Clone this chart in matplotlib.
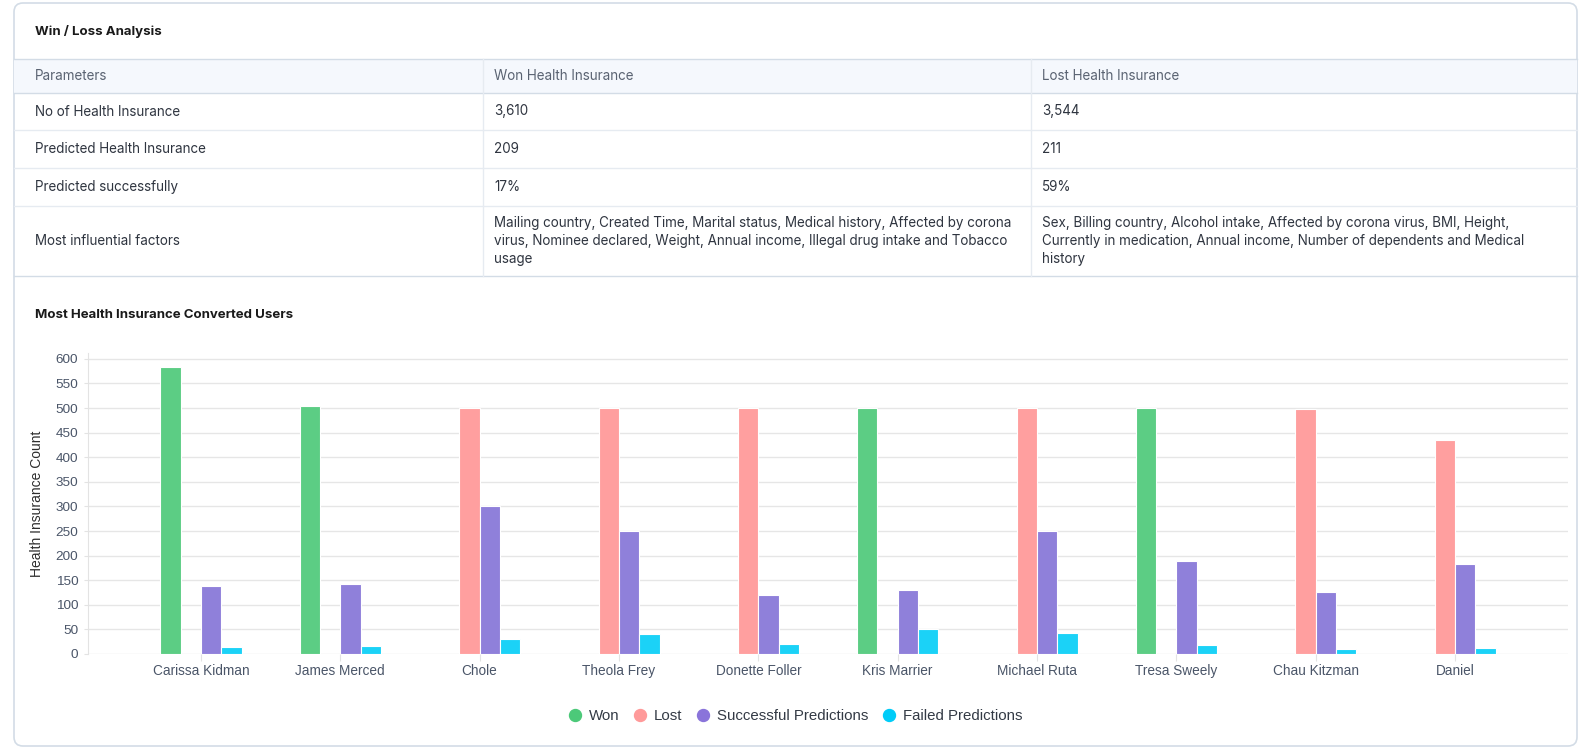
# coding: utf-8

import matplotlib.pyplot as plt
from matplotlib.patches import FancyBboxPatch, Rectangle
from matplotlib.lines import Line2D


# Data
users = ["Carissa Kidman", "James Merced", "Chole", "Theola Frey", "Donette Foller",
         "Kris Marrier", "Michael Ruta", "Tresa Sweely", "Chau Kitzman", "Daniel"]
won = [584, 505, 0, 0, 0, 500, 0, 500, 0, 0]
lost = [0, 0, 500, 500, 500, 0, 500, 0, 498, 435]
successful = [138, 143, 300, 250, 120, 130, 250, 190, 126, 183]
failed = [14, 17, 30, 40, 20, 50, 42, 18, 10, 12]
series_names = ["Won", "Lost", "Successful Predictions", "Failed Predictions"]
y_ticks = list(range(0, 601, 50))

table_header = ["Parameters", "Won Health Insurance", "Lost Health Insurance"]
table_rows = [
    ["No of Health Insurance", "3,610", "3,544"],
    ["Predicted Health Insurance", "209", "211"],
    ["Predicted successfully", "17%", "59%"],
    ["Most influential factors",
     "Mailing country, Created Time, Marital status, Medical history, Affected by corona\n"
     "virus, Nominee declared, Weight, Annual income, Illegal drug intake and Tobacco\n"
     "usage",
     "Sex, Billing country, Alcohol intake, Affected by corona virus, BMI, Height,\n"
     "Currently in medication, Annual income, Number of dependents and Medical\n"
     "history"],
]

bar_colors = ["#5ccd84", "#ff9f9f", "#8f80da", "#1bd2f7"]
dot_colors = ["#4cc979", "#ff9a9a", "#8a74da", "#00ccf8"]

W, H = 1590, 754
fig = plt.figure(figsize=(W / 100, H / 100), dpi=100, facecolor='white')

# Background layer in pixel coordinates
bg = fig.add_axes([0, 0, 1, 1])
bg.set_xlim(0, W)
bg.set_ylim(H, 0)
bg.axis('off')

border = "#d3dce6"
card = FancyBboxPatch((14, 3), 1563, 743, boxstyle="round,pad=0,rounding_size=9",
                      linewidth=1.2, edgecolor=border, facecolor='white')
bg.add_patch(card)

tfont = "Inter"
bg.text(35, 31, "Win / Loss Analysis", fontsize=9.5, fontweight='bold',
        family=tfont, color="#1a1a1a", va='center')

# Table
row_lines = [59, 93, 130, 168, 206, 276]
col_x = [14, 483, 1031, 1577]
bg.add_patch(Rectangle((14, row_lines[0]), 1563, row_lines[1] - row_lines[0],
                       facecolor="#f5f8fd", edgecolor='none'))
for i, y in enumerate(row_lines):
    c = border if i in (0, 1, len(row_lines) - 1) else "#e6ebf1"
    bg.plot([14, 1577], [y, y], color=c, lw=1)
for x in col_x[1:3]:
    bg.plot([x, x], [row_lines[0], row_lines[-1]], color="#e6ebf1", lw=1)

text_x = [35, 494, 1042]
for j, t in enumerate(table_header):
    bg.text(text_x[j], (row_lines[0] + row_lines[1]) / 2, t, fontsize=9.7,
            family=tfont, color="#5a6372", va='center')
for i, row in enumerate(table_rows):
    yc = (row_lines[i + 1] + row_lines[i + 2]) / 2
    for j, t in enumerate(row):
        bg.text(text_x[j], yc, t, fontsize=9.7, family=tfont, color="#2f3540",
                va='center', linespacing=1.35)

bg.text(35, 315, "Most Health Insurance Converted Users", fontsize=9.5,
        fontweight='bold', family=tfont, color="#1a1a1a", va='center')

# Chart
cfont = "Liberation Sans"
ax = fig.add_axes([88 / W, 1 - 654 / H, (1568 - 88) / W, (654 - 353) / H])
ax.set_facecolor('none')
x = list(range(len(users)))
slot = 0.146
for k, vals in enumerate([won, lost, successful, failed]):
    xs = [xi + (k - 1.5) * slot for xi in x]
    ax.bar(xs, vals, width=slot, color=bar_colors[k], edgecolor='white',
           linewidth=0.8, zorder=3)

ax.set_xlim(-0.81, len(users) - 1 + 0.81)
ax.set_ylim(0, 612)
ax.set_yticks(y_ticks)
ax.set_xticks(x)
ax.set_xticklabels(users)
ax.grid(axis='y', color="#e6e6e6", lw=1, zorder=0)
for s in ["top", "right", "bottom"]:
    ax.spines[s].set_visible(False)
ax.spines["left"].set_color("#e3e3e3")
ax.tick_params(axis='y', length=3, color="#e3e3e3", labelsize=9.7,
               labelcolor="#4a5568", pad=4)
ax.tick_params(axis='x', length=5, color="#e3e3e3", labelsize=9.8,
               labelcolor="#4a5568", pad=2)
for lab in ax.get_xticklabels() + ax.get_yticklabels():
    lab.set_family(cfont)
ax.set_ylabel("Health Insurance Count", fontsize=10, family=cfont, color="#2d2d2d",
              labelpad=8)

handles = [Line2D([], [], marker='o', ls='none', markersize=8.6,
                  markerfacecolor=c, markeredgecolor=c) for c in dot_colors]
fig.legend(handles, series_names, loc='center', bbox_to_anchor=(795 / W, 1 - 716 / H),
           ncol=4, frameon=False, handlelength=1.0, handletextpad=0.4,
           columnspacing=0.9, prop={'family': cfont, 'size': 10.8},
           labelcolor="#333a45")

plt.savefig("out.png", dpi=100, facecolor='white')
